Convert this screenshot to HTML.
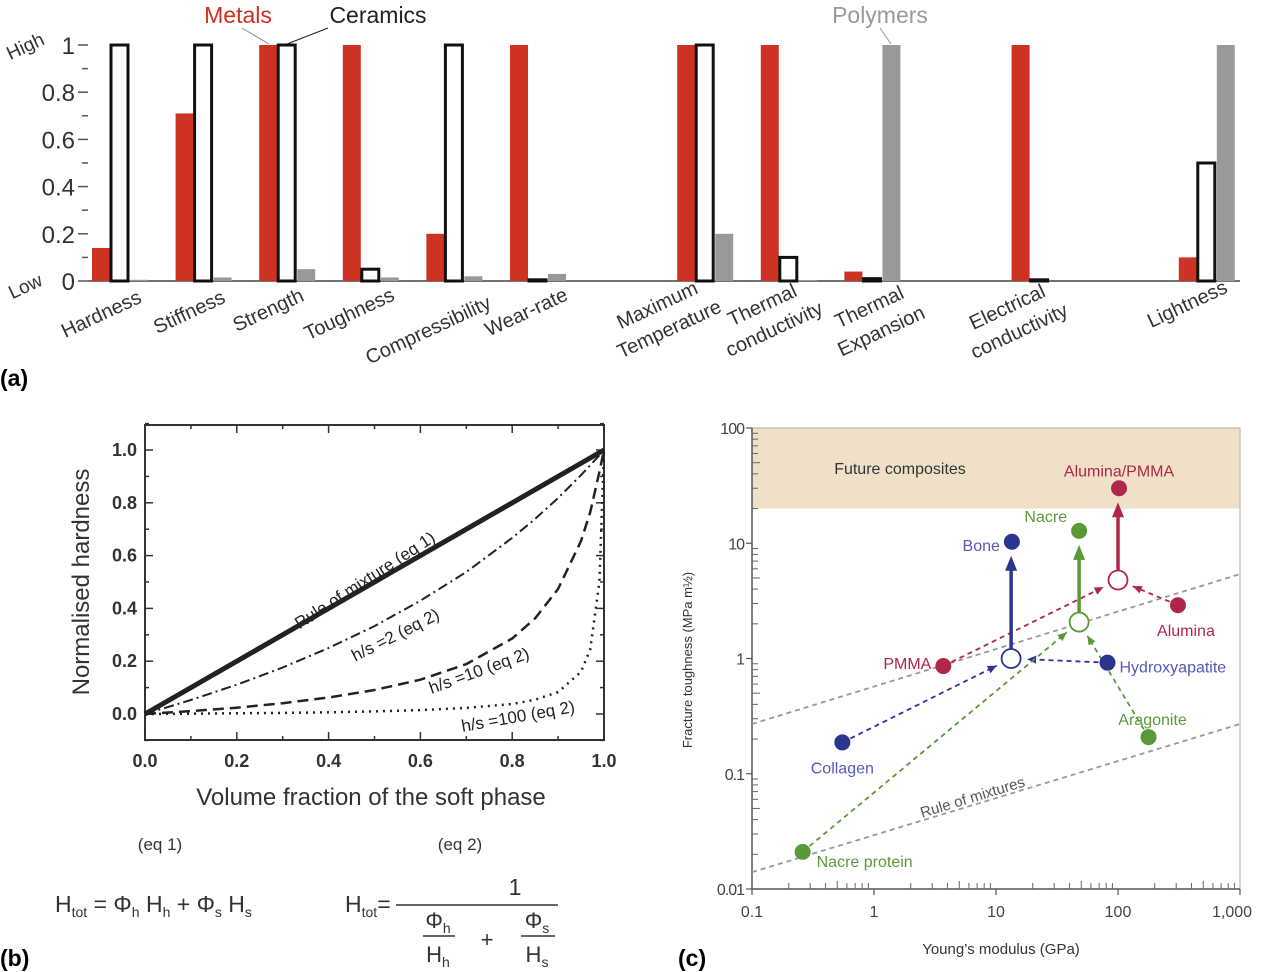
<!DOCTYPE html>
<html><head><meta charset="utf-8"><style>
html,body{margin:0;padding:0;background:#fff;}
svg{display:block;}
text{font-family:"Liberation Sans","DejaVu Sans",sans-serif;}
</style></head><body>
<svg id="fig" width="1262" height="972" viewBox="0 0 1262 972" xmlns="http://www.w3.org/2000/svg">
<g id="pa"></g>
<g id="pb"></g>
<g id="pc"></g>
<text x="0" y="386" font-size="23" font-weight="bold">(a)</text>
<text x="0" y="966" font-size="23" font-weight="bold">(b)</text>
<text x="678" y="966" font-size="23" font-weight="bold">(c)</text>
</svg>
<script>
// ---------- Panel (a) data ----------
const aCategories = ["Hardness","Stiffness","Strength","Toughness","Compressibility","Wear-rate","Maximum|Temperature","Thermal|conductivity","Thermal|Expansion","Electrical|conductivity","Lightness"];
const aSlots = [0,1,2,3,4,5,7,8,9,11,13];
const aMetals =   [0.14,0.71,1.0,1.0,0.20,1.0,1.0,1.0,0.04,1.0,0.10];
const aCeramics = [1.0,1.0,1.0,0.05,1.0,0.005,1.0,0.10,0.01,0.005,0.5];
const aPolymers = [0.005,0.015,0.05,0.015,0.02,0.03,0.20,0.003,1.0,0.0,1.0];
const aTicks = ["0","0.2","0.4","0.6","0.8","1"];

// ---------- Panel (b) data ----------
const bX =    [0,0.1,0.2,0.3,0.4,0.5,0.6,0.7,0.8,0.85,0.9,0.95,0.97,0.99,1];
const bHs2 =  [0,0.053,0.111,0.176,0.25,0.333,0.429,0.538,0.667,0.739,0.818,0.905,0.942,0.98,1];
const bHs10 = [0,0.011,0.024,0.041,0.0625,0.091,0.13,0.189,0.286,0.362,0.474,0.655,0.764,0.917,1];
const bHs100 =[0,0.0011,0.0025,0.0043,0.0066,0.0099,0.0148,0.023,0.038,0.054,0.083,0.16,0.244,0.5,1];
const bRule = [0,1];
const bRuleX = [0,1];
const bTicks = ["0.0","0.2","0.4","0.6","0.8","1.0"];

// ---------- Panel (c) data ----------
const cNames = ["Bone","Nacre","Alumina/PMMA","PMMA","Alumina","Hydroxyapatite","Collagen","Aragonite","Nacre protein"];
const cModulus = [13.5,48,102,3.7,310,82,0.55,178,0.26];
const cToughness = [10.3,12.8,30,0.86,2.9,0.92,0.187,0.208,0.021];
const cOpenNames = ["bone-composite","nacre-composite","alumina-pmma-composite"];
const cOpenModulus = [13.3,48,100];
const cOpenToughness = [1.0,2.07,4.8];
const cRuleUpper = [0.27,5.4];
const cRuleLower = [0.014,0.27];
const cXTicks = ["0.1","1","10","100","1,000"];
const cYTicks = ["0.01","0.1","1","10","100"];

const NS="http://www.w3.org/2000/svg";
function mk(parent,tag,attrs,txt){const e=document.createElementNS(NS,tag);for(const k in attrs)e.setAttribute(k,attrs[k]);if(txt!==undefined)e.textContent=txt;parent.appendChild(e);return e;}

// ===== Panel A =====
(function(){
const g=document.getElementById('pa');
const ay=v=>281-v*236;
const ax=s=>119+83.6*s;
for(let i=0;i<=10;i++){const y=ay(i/10);
 const t=mk(g,'line',{x1:i%2?82:78,x2:88,y1:y,y2:y,stroke:'#555','stroke-width':1.5});
 }
aTicks.forEach((s,i)=>{const t=mk(g,'text',{x:75,y:ay(i*0.2)+9,'font-size':24,'text-anchor':'end',fill:'#333'},s);
 });
let t=mk(g,'text',{x:28,y:52,'font-size':19,'text-anchor':'middle',fill:'#333',transform:'rotate(-25 28 52)'},'High');

t=mk(g,'text',{x:28,y:292,'font-size':19,'text-anchor':'middle',fill:'#333',transform:'rotate(-25 28 292)'},'Low');

const base=mk(g,'line',{x1:88,x2:1240,y1:281,y2:281,stroke:'#444','stroke-width':1.5});

const labPos=[[104,320],[192,318],[271,316],[352,320],[431,336],[529,318],[660,311],[765,311],[872,313],[1010,313],[1190,310]];
aCategories.forEach((c,i)=>{const cx=ax(aSlots[i]);
 const hm=Math.max(aMetals[i]*236,0.5);
 let r=mk(g,'rect',{x:cx-27,y:281-hm,width:18,height:hm,fill:'#cc3322'});
 
 const hc=aCeramics[i]*236;
 r=mk(g,'rect',{x:cx-8,y:281-hc,width:17,height:hc,fill:'#fff',stroke:'#111','stroke-width':3});
 
 const hp=aPolymers[i]*236;
 r=mk(g,'rect',{x:cx+11,y:281-hp,width:18,height:hp,fill:'#999'});
 
 const lines=c.split('|');const [lx,ly]=labPos[i];
 lines.forEach((ln,j)=>{const px=lx+j*12, py=ly+j*24;
  const tt=mk(g,'text',{x:px,y:py,'font-size':20,'text-anchor':'middle',fill:'#333',transform:`rotate(-25 ${px} ${py})`},ln);
  });
});
t=mk(g,'text',{x:238,y:23,'font-size':23,'text-anchor':'middle',fill:'#d03020'},'Metals');

t=mk(g,'text',{x:378,y:23,'font-size':23,'text-anchor':'middle',fill:'#222'},'Ceramics');

t=mk(g,'text',{x:880,y:23,'font-size':23,'text-anchor':'middle',fill:'#999'},'Polymers');

let l=mk(g,'line',{x1:242,y1:28,x2:269,y2:44,stroke:'#888','stroke-width':1});
l=mk(g,'line',{x1:328,y1:28,x2:287,y2:44,stroke:'#222','stroke-width':1});
l=mk(g,'line',{x1:880,y1:28,x2:891,y2:44,stroke:'#999','stroke-width':1});
})();

// ===== Panel B =====
(function(){
const g=document.getElementById('pb');
const bx=v=>145+v*459, by=v=>714-v*264;
let f=mk(g,'rect',{x:145,y:425,width:459,height:315,fill:'none',stroke:'#333','stroke-width':2});

for(let i=0;i<=10;i++){const x=bx(i/10);const len=i%2?4:8;
 let t=mk(g,'line',{x1:x,x2:x,y1:740,y2:740-len,stroke:'#333','stroke-width':1.5});
 t=mk(g,'line',{x1:x,x2:x,y1:425,y2:425+len,stroke:'#333','stroke-width':1.5});}
for(let i=-1;i<=11;i++){const y=by(i/10);const len=i%2?4:8;
 let t=mk(g,'line',{x1:145,x2:145+len,y1:y,y2:y,stroke:'#333','stroke-width':1.5});
 t=mk(g,'line',{x1:604,x2:604-len,y1:y,y2:y,stroke:'#333','stroke-width':1.5});}
bTicks.forEach((s,i)=>{let t=mk(g,'text',{x:bx(i*0.2),y:767,'font-size':18,'font-weight':'bold','text-anchor':'middle',fill:'#333'},s);
 
 t=mk(g,'text',{x:137,y:by(i*0.2)+6,'font-size':18,'font-weight':'bold','text-anchor':'end',fill:'#333'},s);
 });
let t=mk(g,'text',{x:89,y:582,'font-size':24,'text-anchor':'middle',fill:'#333',transform:'rotate(-90 89 582)'},'Normalised hardness');

t=mk(g,'text',{x:371,y:805,'font-size':24,'text-anchor':'middle',fill:'#333'},'Volume fraction of the soft phase');

const path=(xs,ys)=>xs.map((x,i)=>(i?'L':'M')+bx(x).toFixed(1)+' '+by(ys[i]).toFixed(1)).join(' ');
let p=mk(g,'path',{d:path(bX,bHs100),fill:'none',stroke:'#222','stroke-width':2.5,'stroke-dasharray':'2 5'});
p=mk(g,'path',{d:path(bX,bHs10),fill:'none',stroke:'#222','stroke-width':2.5,'stroke-dasharray':'11 6'});
p=mk(g,'path',{d:path(bX,bHs2),fill:'none',stroke:'#222','stroke-width':2,'stroke-dasharray':'10 4 2 4'});
p=mk(g,'path',{d:path(bRuleX,bRule),fill:'none',stroke:'#222','stroke-width':5});
const labs=[['Rule of mixture (eq 1)',368,585,-33,'label-rule-of-mixture'],['h/s =2 (eq 2)',398,640,-27,'label-hs-2'],['h/s =10 (eq 2)',481,676,-20,'label-hs-10'],['h/s =100 (eq 2)',519,722,-10,'label-hs-100']];
labs.forEach(a=>{const tt=mk(g,'text',{x:a[1],y:a[2],'font-size':17,'text-anchor':'middle',fill:'#222',transform:`rotate(${a[3]} ${a[1]} ${a[2]})`},a[0]);
 });
t=mk(g,'text',{x:160,y:850,'font-size':17,'text-anchor':'middle',fill:'#333'},'(eq 1)');
t=mk(g,'text',{x:460,y:850,'font-size':17,'text-anchor':'middle',fill:'#333'},'(eq 2)');
const eq1=mk(g,'text',{x:55,y:912,'font-size':23,fill:'#333'});
eq1.innerHTML='H<tspan font-size="14" dy="5">tot</tspan><tspan dy="-5"> = Φ</tspan><tspan font-size="14" dy="5">h</tspan><tspan dy="-5"> H</tspan><tspan font-size="14" dy="5">h</tspan><tspan dy="-5"> + Φ</tspan><tspan font-size="14" dy="5">s</tspan><tspan dy="-5"> H</tspan><tspan font-size="14" dy="5">s</tspan>';
const eq2=mk(g,'text',{x:345,y:912,'font-size':23,fill:'#333'});
eq2.innerHTML='H<tspan font-size="14" dy="5">tot</tspan><tspan dy="-5">=</tspan>';
t=mk(g,'text',{x:515,y:895,'font-size':23,'text-anchor':'middle',fill:'#333'},'1');
let l=mk(g,'line',{x1:396,x2:558,y1:905,y2:905,stroke:'#333','stroke-width':1.5});
const sub=(x,y,a,b,nm)=>{const e=mk(g,'text',{x:x,y:y,'font-size':22,'text-anchor':'middle',fill:'#333'});e.innerHTML=a+'<tspan font-size="14" dy="5">'+b+'</tspan>';};
sub(438,928,'Φ','h','eq2-phi-h');sub(438,962,'H','h','eq2-h-h');sub(537,928,'Φ','s','eq2-phi-s');sub(537,962,'H','s','eq2-h-s');
l=mk(g,'line',{x1:423,x2:455,y1:936,y2:936,stroke:'#333','stroke-width':1.5});
l=mk(g,'line',{x1:521,x2:555,y1:936,y2:936,stroke:'#333','stroke-width':1.5});
t=mk(g,'text',{x:487,y:947,'font-size':22,'text-anchor':'middle',fill:'#333'},'+');
})();

// ===== Panel C =====
(function(){
const g=document.getElementById('pc');
const X0=752,X1=1240,Y0=889,Y1=428;
const cx=v=>X0+(Math.log10(v)+1)/4*(X1-X0);
const cy=v=>Y0-(Math.log10(v)+2)/4*(Y0-Y1);
let r=mk(g,'rect',{x:X0,y:Y1,width:X1-X0,height:cy(20)-Y1,fill:'#f0e0c8'});

let l=mk(g,'polyline',{points:`${X0},${Y1} ${X1},${Y1} ${X1},${Y0}`,fill:'none',stroke:'#bbb','stroke-width':1.2});

l=mk(g,'polyline',{points:`${X0},${Y1} ${X0},${Y0} ${X1},${Y0}`,fill:'none',stroke:'#555','stroke-width':1.5});

for(let d=-1;d<3;d++)for(let m=1;m<=10;m++){const v=m*Math.pow(10,d);const x=cx(v);const len=m===1||m===10?0:(m===5?8:6);
 if(len){const t=mk(g,'line',{x1:x,x2:x,y1:Y0,y2:Y0-len,stroke:'#666','stroke-width':1});}}
for(let d=-2;d<2;d++)for(let m=2;m<=9;m++){const v=m*Math.pow(10,d);const y=cy(v);
 const t=mk(g,'line',{x1:X0,x2:X0+(m===5?8:6),y1:y,y2:y,stroke:'#666','stroke-width':1});}
cXTicks.forEach((s,i)=>{const x=X0+i*(X1-X0)/4;
 let t=mk(g,'line',{x1:x,x2:x,y1:Y0,y2:Y0+6,stroke:'#555','stroke-width':1.2});
 t=mk(g,'text',{x:i===4?x-8:x,y:Y0+28,'font-size':16,'text-anchor':'middle',fill:'#444'},s);});
cYTicks.forEach((s,i)=>{const y=Y0-i*(Y0-Y1)/4;
 let t=mk(g,'line',{x1:X0-6,x2:X0,y1:y,y2:y,stroke:'#555','stroke-width':1.2});
 t=mk(g,'text',{x:X0-8,y:y+6,'font-size':16,'text-anchor':'end',fill:'#444','letter-spacing':'-1'},s);});
let t=mk(g,'text',{x:692,y:660,'font-size':13,'text-anchor':'middle',fill:'#333',transform:'rotate(-90 692 660)'},'Fracture toughness (MPa m½)');

t=mk(g,'text',{x:1001,y:954,'font-size':15,'text-anchor':'middle',fill:'#333'},"Young’s modulus (GPa)");

t=mk(g,'text',{x:900,y:474,'font-size':16,'text-anchor':'middle',fill:'#333'},'Future composites');

l=mk(g,'line',{x1:cx(0.1),y1:cy(cRuleUpper[0]),x2:cx(1000),y2:cy(cRuleUpper[1]),stroke:'#999','stroke-width':1.8,'stroke-dasharray':'5 4'});

l=mk(g,'line',{x1:cx(0.1),y1:cy(cRuleLower[0]),x2:cx(1000),y2:cy(cRuleLower[1]),stroke:'#999','stroke-width':1.8,'stroke-dasharray':'5 4'});

t=mk(g,'text',{x:974,y:802,'font-size':15,'text-anchor':'middle',fill:'#555',transform:'rotate(-17 974 802)'},'Rule of mixtures');

const RED='#b0264a',BLUE='#2a3590',GREEN='#5a9a36',BLUEL='#5558b8';
const ptColor=[BLUE,GREEN,RED,RED,RED,BLUE,BLUE,GREEN,GREEN];
const labColor=[BLUEL,GREEN,RED,RED,RED,BLUEL,BLUEL,GREEN,GREEN];
const openColor=[BLUE,GREEN,RED];
const links=[[6,0],[5,0],[8,1],[7,1],[3,2],[4,2]];
links.forEach(([p,o])=>{const x1=cx(cModulus[p]),y1=cy(cToughness[p]),x2=cx(cOpenModulus[o]),y2=cy(cOpenToughness[o]);
 const dx=x2-x1,dy=y2-y1,L=Math.hypot(dx,dy),ux=dx/L,uy=dy/L;
 const ex=x2-ux*16,ey=y2-uy*16;
 const c=openColor[o];
 let e=mk(g,'line',{x1:x1,y1:y1,x2:ex,y2:ey,stroke:c,'stroke-width':1.8,'stroke-dasharray':'5 4'});
 
 const hx=ex,hy=ey,bx=hx-ux*9,by=hy-uy*9;
 e=mk(g,'polygon',{points:`${hx},${hy} ${bx-uy*4},${by+ux*4} ${bx+uy*4},${by-ux*4}`,fill:c});
 
});
[[0,0],[1,1],[2,2]].forEach(([o,p])=>{const x=cx(cOpenModulus[o]),y1=cy(cOpenToughness[o])-10,y2=cy(cToughness[p])+14;const c=openColor[o];
 let e=mk(g,'line',{x1:x,y1:y1,x2:x,y2:y2+12,stroke:c,'stroke-width':3.5});
 e=mk(g,'polygon',{points:`${x},${y2} ${x-6},${y2+15} ${x+6},${y2+15}`,fill:c});
});
cOpenNames.forEach((n,i)=>{const e=mk(g,'circle',{cx:cx(cOpenModulus[i]),cy:cy(cOpenToughness[i]),r:9.5,fill:'#fff',stroke:openColor[i],'stroke-width':1.8});
 });
const labOff=[[-12,4,'end'],[-12,-14,'end'],[0,-17,'middle'],[-12,-2,'end'],[8,26,'middle'],[12,5,'start'],[0,26,'middle'],[4,-17,'middle'],[14,10,'start']];
cNames.forEach((n,i)=>{const x=cx(cModulus[i]),y=cy(cToughness[i]);
 const e=mk(g,'circle',{cx:x,cy:y,r:8,fill:ptColor[i]});
 
 const o=labOff[i];
 const tt=mk(g,'text',{x:x+o[0],y:y+o[1]+5,'font-size':16,'text-anchor':o[2],fill:labColor[i]},n);
 
});
})();
</script>
</body></html>
